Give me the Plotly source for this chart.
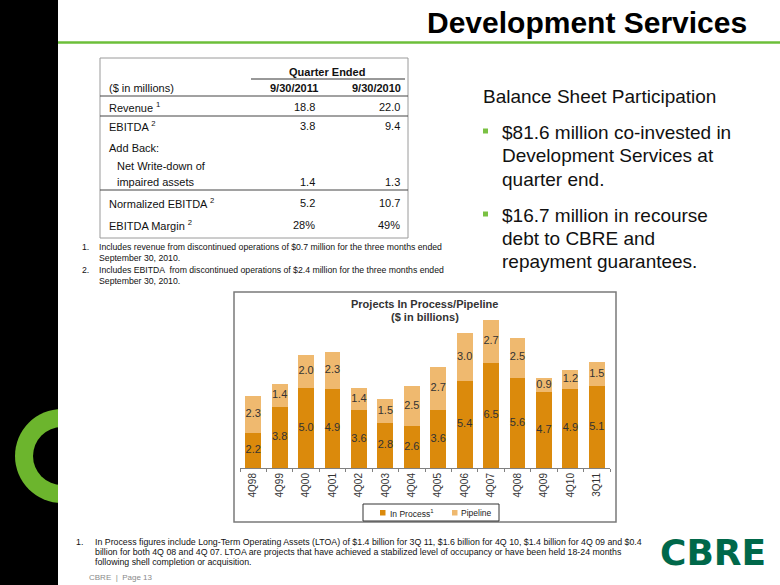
import plotly.graph_objects as go

W, H = 780, 585
FONT = "Arial, 'Liberation Sans', sans-serif"

# ---------------- data ----------------
quarters = ["4Q98", "4Q99", "4Q00", "4Q01", "4Q02", "4Q03", "4Q04",
            "4Q05", "4Q06", "4Q07", "4Q08", "4Q09", "4Q10", "3Q11"]
in_process = [2.2, 3.8, 5.0, 4.9, 3.6, 2.8, 2.6, 3.6, 5.4, 6.5, 5.6, 4.7, 4.9, 5.1]
pipeline = [2.3, 1.4, 2.0, 2.3, 1.4, 1.5, 2.5, 2.7, 3.0, 2.7, 2.5, 0.9, 1.2, 1.5]

table_labels = ["Revenue <sup>1</sup>", "EBITDA <sup>2</sup>", "Add Back:",
                "Net Write-down of", "impaired assets",
                "Normalized EBITDA <sup>2</sup>", "EBITDA Margin <sup>2</sup>"]
col_2011 = ["18.8", "3.8", "", "", "1.4", "5.2", "28%"]
col_2010 = ["22.0", "9.4", "", "", "1.3", "10.7", "49%"]

bullets = [["$81.6 million co-invested in", "Development Services at", "quarter end."],
           ["$16.7 million in recourse", "debt to CBRE and", "repayment guarantees."]]

legend_names = ["In Process<sup>1</sup>", "Pipeline"]

DARK = "#DB8A0C"
LIGHT = "#EFB96F"


def px(x):
    return x / W


def py(y):
    return 1 - y / H


fig = go.Figure()

fig.add_trace(go.Bar(x=quarters, y=in_process, name=legend_names[0],
                     marker=dict(color=DARK, line=dict(width=0)), showlegend=False))
fig.add_trace(go.Bar(x=quarters, y=pipeline, name=legend_names[1],
                     marker=dict(color=LIGHT, line=dict(width=0)), showlegend=False))

# value labels
fig.add_trace(go.Scatter(x=quarters, y=[v / 2 for v in in_process], mode="text",
                         text=[f"{v:.1f}" for v in in_process],
                         textfont=dict(size=11, color="#333333", family=FONT),
                         showlegend=False, hoverinfo="skip"))
fig.add_trace(go.Scatter(x=quarters, y=[a + b / 2 for a, b in zip(in_process, pipeline)],
                         mode="text", text=[f"{v:.1f}" for v in pipeline],
                         textfont=dict(size=11, color="#333333", family=FONT),
                         showlegend=False, hoverinfo="skip"))

fig.update_layout(
    width=W, height=H,
    margin=dict(l=0, r=0, t=0, b=0),
    paper_bgcolor="white", plot_bgcolor="rgba(0,0,0,0)",
    barmode="stack", bargap=0.4,
    font=dict(family=FONT, color="#222222"),
    xaxis=dict(domain=[px(240), px(610)], range=[-0.5, 13.5], type="category",
               showline=True, linecolor="#808080", linewidth=1,
               ticks="outside", tickson="boundaries", ticklen=3, tickcolor="#808080",
               tickangle=-90, tickfont=dict(size=10, color="#333333", family=FONT),
               showgrid=False, zeroline=False, fixedrange=True),
    yaxis=dict(domain=[py(468), py(307)], range=[0, 10], visible=False, fixedrange=True),
    showlegend=False,
)

shapes = []
# black strip
shapes.append(dict(type="rect", xref="paper", yref="paper", x0=0, x1=px(58), y0=0, y1=1,
                   fillcolor="black", line=dict(width=0), layer="below"))
# green ring
cx, cy, ro, ri = 62, 456, 47, 29
shapes.append(dict(type="circle", xref="paper", yref="paper", x0=px(cx - ro), x1=px(cx + ro),
                   y0=py(cy + ro), y1=py(cy - ro), fillcolor="#6CB52D", line=dict(width=0),
                   layer="below"))
shapes.append(dict(type="circle", xref="paper", yref="paper", x0=px(cx - ri), x1=px(cx + ri),
                   y0=py(cy + ri), y1=py(cy - ri), fillcolor="black", line=dict(width=0),
                   layer="below"))
shapes.append(dict(type="rect", xref="paper", yref="paper", x0=px(58), x1=px(115),
                   y0=py(cy + ro + 2), y1=py(cy - ro - 2), fillcolor="white", line=dict(width=0),
                   layer="below"))
# green header line
shapes.append(dict(type="line", xref="paper", yref="paper", x0=px(58), x1=1, y0=py(42.5), y1=py(42.5),
                   line=dict(color="#6CBF3A", width=2.5)))
# table box
shapes.append(dict(type="rect", xref="paper", yref="paper", x0=px(100), x1=px(408), y0=py(238), y1=py(58),
                   line=dict(color="#9A9A9A", width=1)))
# table lines
shapes.append(dict(type="line", xref="paper", yref="paper", x0=px(251), x1=px(405), y0=py(79), y1=py(79),
                   line=dict(color="#333333", width=1)))
for yy in (96, 116, 190):
    shapes.append(dict(type="line", xref="paper", yref="paper", x0=px(100), x1=px(408), y0=py(yy), y1=py(yy),
                       line=dict(color="#444444", width=1)))
# chart box
shapes.append(dict(type="rect", xref="paper", yref="paper", x0=px(234), x1=px(616), y0=py(522), y1=py(292),
                   line=dict(color="#7A7A7A", width=1.5), layer="below"))
# legend box and swatches
shapes.append(dict(type="rect", xref="paper", yref="paper", x0=px(363), x1=px(499), y0=py(521), y1=py(504),
                   line=dict(color="#333333", width=1), fillcolor="white"))
for sx, col in ((380, DARK), (452, LIGHT)):
    shapes.append(dict(type="rect", xref="paper", yref="paper", x0=px(sx), x1=px(sx + 5.5),
                       y0=py(515.5), y1=py(510), fillcolor=col, line=dict(width=0)))
# bullets
for by in (131, 214):
    shapes.append(dict(type="rect", xref="paper", yref="paper", x0=px(483), x1=px(488), y0=py(by + 2.5),
                       y1=py(by - 2.5), fillcolor="#7AC143", line=dict(width=0)))
fig.update_layout(shapes=shapes)

ann = []


def text(x, y, s, size, anchor="left", bold=False, color="#111111", family=FONT):
    if bold:
        s = f"<b>{s}</b>"
    ann.append(dict(x=px(x), y=py(y), xref="paper", yref="paper", text=s, showarrow=False,
                    xanchor=anchor, yanchor="middle", align=anchor if anchor != "center" else "center",
                    font=dict(size=size, color=color, family=family)))


# header
text(749, 23, "Development Services", 30, anchor="right", bold=True, color="#000000")

# table
text(327, 72, "Quarter Ended", 11, anchor="center", bold=True)
text(107, 88, "($ in millions)", 11)
text(320, 88, "9/30/2011", 11, anchor="right", bold=True)
text(403, 88, "9/30/2010", 11, anchor="right", bold=True)
row_y = [107, 126, 148, 166, 182, 203, 225]
for lab, v1, v2, yy in zip(table_labels, col_2011, col_2010, row_y):
    indent = 115 if lab in ("Net Write-down of", "impaired assets") else 107
    text(indent, yy, lab, 11)
    if v1:
        text(317, yy, v1, 11, anchor="right")
    if v2:
        text(402, yy, v2, 11, anchor="right")

# footnotes under table
text(80, 247, "1.", 8.7)
text(97, 247, "Includes revenue from discontinued operations of $0.7 million for the three months ended", 8.7)
text(97, 258, "September 30, 2010.", 8.7)
text(80, 270, "2.", 8.7)
text(97, 270, "Includes EBITDA  from discontinued operations of $2.4 million for the three months ended", 8.7)
text(97, 281, "September 30, 2010.", 8.7)

# right text
text(481, 97, "Balance Sheet Participation", 19)
bl_y = [[133, 156, 179], [215, 238, 261]]
for lines, ys in zip(bullets, bl_y):
    for ln, yy in zip(lines, ys):
        text(500, yy, ln, 19)

# chart title
text(425, 304, "Projects In Process/Pipeline", 11, anchor="center", bold=True, color="#333333")
text(425, 317, "($ in billions)", 11, anchor="center", bold=True, color="#333333")

# legend labels
text(388, 513, legend_names[0], 8.5, color="#222222")
text(459, 513, legend_names[1], 8.5, color="#222222")

# bottom footnote
text(74, 542, "1.", 8.8)
text(93, 542, "In Process figures include Long-Term Operating Assets (LTOA) of $1.4 billion for 3Q 11, "
              "$1.6 billion for 4Q 10, $1.4 billion for 4Q 09 and $0.4", 8.8)
text(93, 552, "billion for both 4Q 08 and 4Q 07. LTOA are projects that have achieved a stabilized level "
              "of occupancy or have been held 18-24 months", 8.8)
text(93, 562, "following shell completion or acquisition.", 8.8)
text(87, 577, "CBRE  |  Page 13", 8, color="#8A8A8A")

# logo
text(713, 552, "CBRE", 36, anchor="center", bold=True, color="#00684A",
     family="'DejaVu Sans', Arial, sans-serif")

fig.update_layout(annotations=ann)

fig.write_html("out.html", config={"displayModeBar": False},
               post_script="document.body.style.margin='0px';document.body.style.padding='0px';")
